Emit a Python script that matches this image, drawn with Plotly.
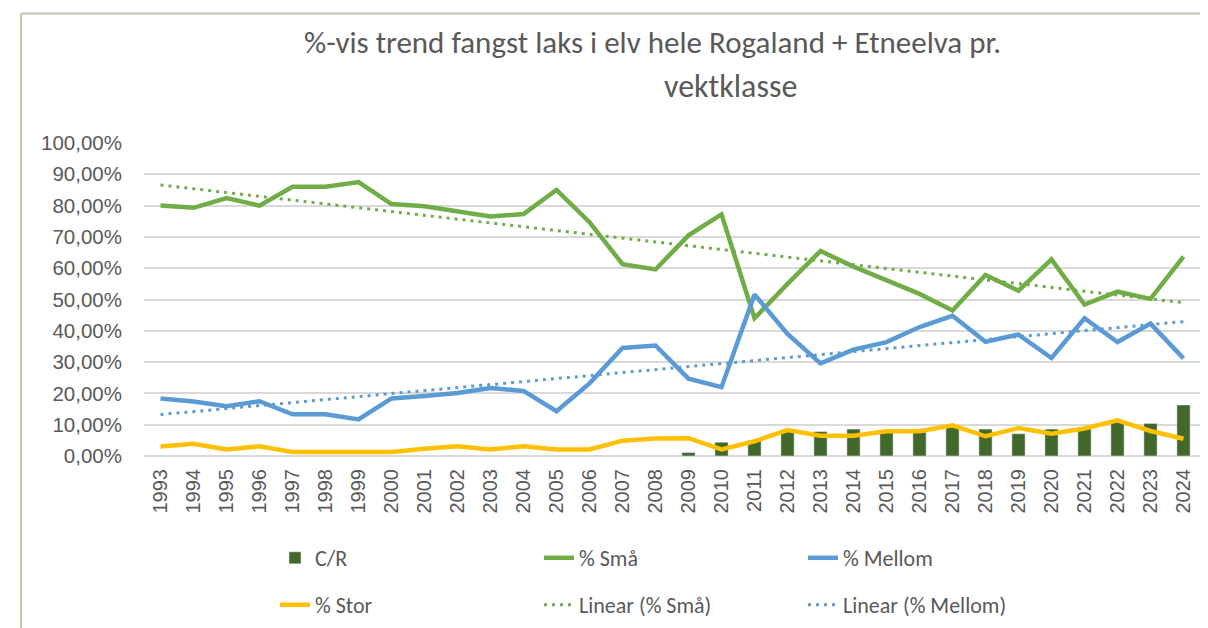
import numpy as np
import plotly.graph_objects as go

years = [str(y) for y in range(1993, 2025)]
sma = [80.0, 79.3, 82.4, 80.0, 86.0, 86.0, 87.5, 80.5, 79.8, 78.3, 76.5, 77.3, 85.0, 74.7, 61.3, 59.6,
       70.5, 77.2, 44.0, 55.0, 65.5, 60.5, 56.0, 51.8, 46.5, 57.8, 52.8, 62.8, 48.4, 52.5, 50.2, 63.7]
mellom = [18.4, 17.4, 15.9, 17.5, 13.3, 13.3, 11.7, 18.4, 19.2, 20.1, 21.7, 20.8, 14.3, 23.2, 34.5, 35.3,
          24.7, 22.0, 51.6, 39.0, 29.6, 34.0, 36.4, 41.2, 44.8, 36.5, 38.8, 31.3, 44.0, 36.4, 42.3, 31.2]
stor = [3.0, 3.9, 2.1, 3.1, 1.3, 1.3, 1.3, 1.3, 2.3, 3.1, 2.1, 3.1, 2.1, 2.1, 4.9, 5.6,
        5.7, 2.1, 4.7, 8.3, 6.5, 6.5, 7.9, 7.9, 9.8, 6.3, 8.9, 7.1, 8.8, 11.4, 8.0, 5.5]
cr = [None] * 16 + [1.1, 4.4, 5.0, 8.3, 7.8, 8.6, 7.6, 7.6, 9.2, 8.6, 7.1, 8.6, 9.2, 10.7, 10.4, 16.3]

ytick_vals = [0, 10, 20, 30, 40, 50, 60, 70, 80, 90, 100]
ytick_text = ["0,00%", "10,00%", "20,00%", "30,00%", "40,00%", "50,00%",
              "60,00%", "70,00%", "80,00%", "90,00%", "100,00%"]

title_line1 = "%-vis trend fangst laks i elv hele Rogaland + Etneelva pr."
title_line2 = "vektklasse"

# linear trendlines (least squares, as Excel's "Linear" trendline)
idx = np.arange(len(years))
def linfit(vals):
    a, b = np.polyfit(idx, np.array(vals, dtype=float), 1)
    return list(a * idx + b)

trend_sma = linfit(sma)
trend_mellom = linfit(mellom)

GREEN = "#70AD47"
BLUE = "#5B9BD5"
YELLOW = "#FFC000"
DARK = "#43682B"
GRAY = "#595959"

fig = go.Figure()
fig.add_trace(go.Bar(x=years, y=cr, name="C/R", marker_color=DARK, width=0.4, legend="legend"))
fig.add_trace(go.Scatter(x=years, y=sma, name="% Små", mode="lines",
                         line=dict(color=GREEN, width=4.5), legend="legend"))
fig.add_trace(go.Scatter(x=years, y=mellom, name="% Mellom", mode="lines",
                         line=dict(color=BLUE, width=4.5), legend="legend"))
fig.add_trace(go.Scatter(x=years, y=stor, name="% Stor", mode="lines",
                         line=dict(color=YELLOW, width=4.5), legend="legend2"))
fig.add_trace(go.Scatter(x=years, y=trend_sma, name="Linear (% Små)", mode="lines",
                         line=dict(color=GREEN, width=3, dash="3px,5px"), legend="legend2"))
fig.add_trace(go.Scatter(x=years, y=trend_mellom, name="Linear (% Mellom)", mode="lines",
                         line=dict(color=BLUE, width=3, dash="3px,5px"), legend="legend2"))

# page has an 8px body margin; work in screen pixels and offset
OFF = 8
W, H = 1200, 620
L, R, T, B = 136, 8, 135, 172
pw, ph = W - L - R, H - T - B

def px_x(x):
    return (x - OFF - L) / pw

def px_y(y):
    return 1 + (T - (y - OFF)) / ph

legend_common = dict(orientation="h", xanchor="left", yanchor="middle",
                     entrywidth=219, entrywidthmode="pixels",
                     font=dict(family="Carlito, Lato, sans-serif", size=22, color=GRAY),
                     bgcolor="rgba(0,0,0,0)", itemwidth=30)

FRAME = "#C3C7A9"

fig.update_layout(
    width=W, height=H,
    margin=dict(l=L, r=R, t=T, b=B, autoexpand=False),
    paper_bgcolor="white", plot_bgcolor="white",
    barmode="overlay",
    showlegend=True,
    legend=dict(x=px_x(275), y=px_y(558), **legend_common),
    legend2=dict(x=px_x(275), y=px_y(605), **legend_common),
    xaxis=dict(type="category", range=[-0.5, len(years) - 0.5], tickangle=-90,
               tickfont=dict(family="Liberation Sans, Arial, sans-serif", size=20, color=GRAY),
               showgrid=False, ticks="", ticklabelstandoff=8, fixedrange=True),
    yaxis=dict(range=[0, 100], tickvals=ytick_vals, ticktext=ytick_text,
               tickfont=dict(family="Liberation Sans, Arial, sans-serif", size=20.5, color=GRAY),
               showgrid=True, gridcolor="#D9D9D9", gridwidth=1.5, zeroline=True,
               zerolinecolor="#D9D9D9", zerolinewidth=1.5, ticks="", ticklabelstandoff=21,
               showline=False, fixedrange=True),
    annotations=[
        dict(text=title_line1, xref="paper", yref="paper", x=px_x(652), y=px_y(42),
             xanchor="center", yanchor="middle", showarrow=False,
             font=dict(family="Carlito, Lato, sans-serif", size=31, color=GRAY)),
        dict(text=title_line2, xref="paper", yref="paper", x=px_x(730), y=px_y(87),
             xanchor="center", yanchor="middle", showarrow=False,
             font=dict(family="Carlito, Lato, sans-serif", size=32, color=GRAY)),
    ],
    shapes=[
        dict(type="line", xref="paper", yref="paper", x0=px_x(21), y0=px_y(13.5),
             x1=px_x(1220), y1=px_y(13.5), line=dict(color=FRAME, width=2), layer="below"),
        dict(type="line", xref="paper", yref="paper", x0=px_x(21), y0=px_y(13.5),
             x1=px_x(21), y1=px_y(640), line=dict(color=FRAME, width=2), layer="below"),
    ],
)

fig.write_html("out.html")
